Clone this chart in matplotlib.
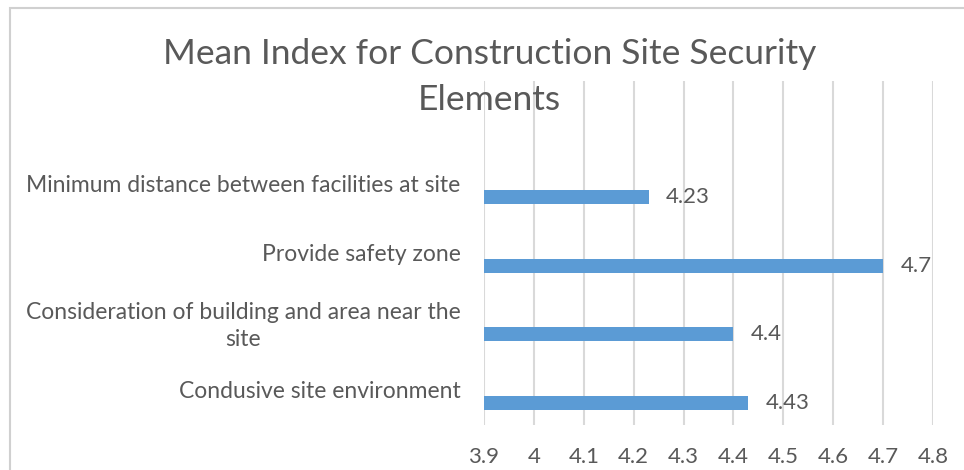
import numpy as np
import matplotlib.pyplot as plt
from matplotlib.patches import Rectangle

#%% DATA
categories = ["Condusive site environment",
              "Consideration of building and area near the\nsite",
              "Provide safety zone",
              "Minimum distance between facilities at site"]
values = [4.43, 4.4, 4.7, 4.23]
xticks = [3.9, 4.0, 4.1, 4.2, 4.3, 4.4, 4.5, 4.6, 4.7, 4.8]
xticklabels = ["3.9", "4", "4.1", "4.2", "4.3", "4.4", "4.5", "4.6", "4.7", "4.8"]
title = "Mean Index for Construction Site Security\nElements"

#%% PLOT
plt.rcParams['font.family'] = ['Lato', 'DejaVu Sans']
grey = '#595959'
blue = '#5B9BD5'

fig = plt.figure(figsize=(9.64, 4.70), dpi=100)
ax = fig.add_axes([484/964, 1 - 425/470, (933 - 484)/964, (425 - 81)/470])

pos = np.arange(len(categories))
ax.barh(pos, np.array(values) - 3.9, left=3.9, height=0.2, color=blue, zorder=3)
for p, v in zip(pos, values):
    ax.text(v + 0.035, p, f"{v:g}", va='center', ha='left', fontsize=16, color=grey, zorder=4)

ax.set_xlim(3.9, 4.8)
ax.set_ylim(-0.32, 4.69)
ax.set_xticks(xticks)
ax.set_xticklabels(xticklabels, fontsize=16, color=grey)
ax.set_yticks(pos + 0.19)
ax.set_yticklabels(categories, fontsize=16.5, color=grey)
for lbl in ax.get_yticklabels():
    lbl.set_multialignment('center')
    lbl.set_linespacing(1.35)
ax.tick_params(axis='both', length=0)
ax.tick_params(axis='y', pad=17)
ax.tick_params(axis='x', pad=16)
ax.grid(axis='x', color='#D9D9D9', linewidth=1.5, zorder=0)
for s in ax.spines.values():
    s.set_visible(False)

fig.text(0.508, 1 - 77/470, title, ha='center', va='center', fontsize=25.5,
         color=grey, linespacing=1.5)

# chart border
fig.patches.append(Rectangle((10/964, -0.01), 1.2, 1 - 8/470 + 0.01, transform=fig.transFigure,
                             fill=False, edgecolor='#D0D0D0', linewidth=1.5))

fig.savefig("out.png", dpi=100, facecolor='white')
